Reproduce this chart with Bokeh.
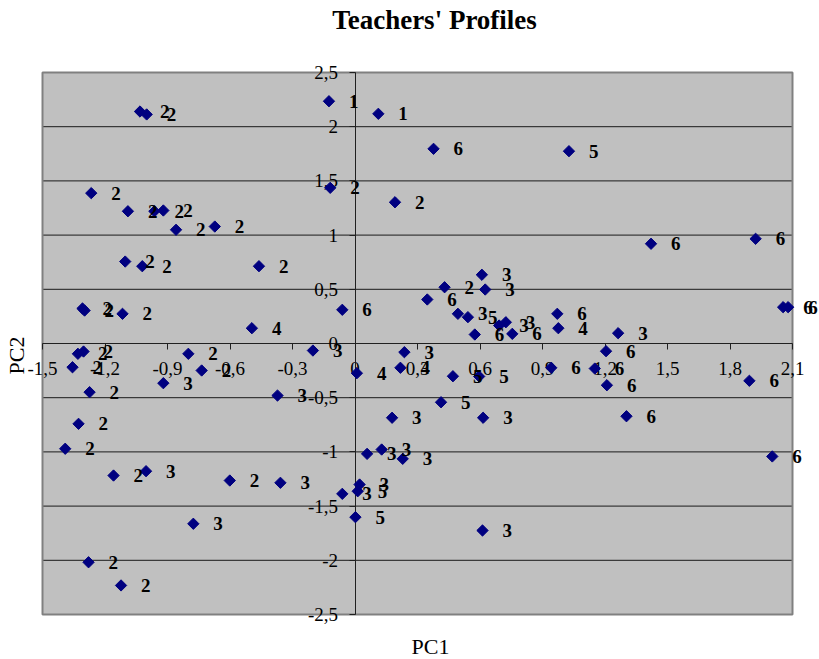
import math
from bokeh.plotting import figure
from bokeh.models import ColumnDataSource, LabelSet, FixedTicker, Label
from bokeh.embed import file_html
from bokeh.resources import INLINE

# ---- data ----
pc1 = [-0.125, 0.112, 0.377, 1.027, -1.032, -1.000, -0.119, 0.192, -1.266, -1.090,
       -0.963, -0.920, -0.859, -0.673, -1.103, -1.021, -0.461, -1.308, -1.298, -1.116,
       -0.495, -0.061, 0.347, 0.430, 0.609, 0.625, 0.494, 0.542, 0.575, 0.692,
       0.724, 0.755, 0.971, 0.976, 1.263, 1.205, 0.942, 1.151, 1.209, 1.303,
       1.893, 2.055, 2.079, 1.421, 1.923, 2.003, -0.202, 0.237, 0.218, 0.009,
       0.470, 0.596, 0.413, 0.178, 0.615, 0.058, 0.128, 0.229, -0.061, 0.022,
       0.013, 0.002, 0.612, -1.391, -1.159, -1.003, -0.601, -0.358, -0.776, -1.279,
       -1.123, -1.327, -1.274, -0.920, -0.800, -0.736, -0.372, -1.356, -1.330, -1.303]
pc2 = [2.235, 2.119, 1.796, 1.774, 2.140, 2.113, 1.436, 1.303, 1.387, 1.220,
       1.220, 1.227, 1.049, 1.079, 0.756, 0.713, 0.713, 0.323, 0.304, 0.274,
       0.141, 0.311, 0.406, 0.519, 0.634, 0.498, 0.274, 0.243, 0.083, 0.166,
       0.196, 0.089, 0.274, 0.141, 0.095, -0.071, -0.224, -0.231, -0.385, -0.671,
       -0.344, 0.335, 0.335, 0.920, 0.966, -1.042, -0.065, -0.080, -0.224, -0.274,
       -0.302, -0.304, -0.542, -0.685, -0.685, -1.018, -0.978, -1.064, -1.387, -1.301,
       -1.363, -1.602, -1.725, -0.971, -1.218, -1.178, -1.264, -1.285, -1.663, -2.018,
       -2.232, -0.741, -0.449, -0.366, -0.095, -0.249, -0.480, -0.219, -0.095, -0.074]
groups = ["1", "1", "6", "5", "2", "2", "2", "2", "2", "2",
          "2", "2", "2", "2", "2", "2", "2", "2", "2", "2",
          "4", "6", "6", "2", "3", "3", "3", "5", "6", "3",
          "3", "6", "6", "4", "3", "6", "6", "6", "6", "6",
          "6", "6", "6", "6", "6", "6", "3", "3", "4", "4",
          "5", "5", "5", "3", "3", "3", "3", "3", "3", "3",
          "5", "5", "3", "2", "2", "3", "2", "3", "3", "2",
          "2", "2", "2", "3", "2", "2", "3", "2", "2", "2"]

x_ticks = [-1.5, -1.2, -0.9, -0.6, -0.3, 0.0, 0.3, 0.6, 0.9, 1.2, 1.5, 1.8, 2.1]
x_tick_labels = ["-1,5", "-1,2", "-0,9", "-0,6", "-0,3", "0", "0,3", "0,6", "0,9",
                 "1,2", "1,5", "1,8", "2,1"]
y_ticks = [-2.5, -2.0, -1.5, -1.0, -0.5, 0.0, 0.5, 1.0, 1.5, 2.0, 2.5]
y_tick_labels = ["-2,5", "-2", "-1,5", "-1", "-0,5", "0", "0,5", "1", "1,5", "2", "2,5"]

title_text = "Teachers' Profiles"
x_title = "PC1"
y_title = "PC2"

FONT = "Liberation Serif"

# ---- layout geometry (canvas pixels; the canvas sits at the page's top-left) ----
W, H = 819, 659
PL, PR = 42, 792         # plot-area left/right (x_ticks[0] / x_ticks[-1])
PT, PB = 72, 614         # plot-area top/bottom (y_ticks[-1] / y_ticks[0])

xmin, xmax = x_ticks[0], x_ticks[-1]
ymin, ymax = y_ticks[0], y_ticks[-1]
sx = (PR - PL) / (xmax - xmin)
sy = (PB - PT) / (ymax - ymin)
x_range = (xmin - PL / sx, xmax + (W - PR) / sx)
y_range = (ymin - (H - PB) / sy, ymax + PT / sy)


def px2x(px):
    return xmin + (px - PL) / sx


def py2y(py):
    return ymax - (py - PT) / sy


src = ColumnDataSource(data=dict(x=pc1, y=pc2, g=groups))

p = figure(width=W, height=H, x_range=x_range, y_range=y_range,
           output_backend="svg", toolbar_location=None, min_border=0)
p.background_fill_color = "white"
p.border_fill_color = "white"
p.outline_line_color = None
p.xgrid.visible = False
p.ygrid.visible = False

# plot area
p.quad(left=xmin, right=xmax, bottom=ymin, top=ymax, fill_color="#C0C0C0",
       line_color=None, level="image")
inner_y = [v for v in y_ticks if ymin < v < ymax]
p.segment(x0=[xmin] * len(inner_y), x1=[xmax] * len(inner_y), y0=inner_y, y1=inner_y,
          line_color="#1a1a1a", line_width=1, level="image")
p.quad(left=xmin, right=xmax, bottom=ymin, top=ymax, fill_color=None,
       line_color="#808080", line_width=2, level="underlay")

# axes crossing at the origin
for ax, ticks, labels, bnds in ((p.xaxis[0], x_ticks, x_tick_labels, (xmin, xmax)),
                                (p.yaxis[0], y_ticks, y_tick_labels, (ymin, ymax))):
    ax.fixed_location = 0
    ax.bounds = bnds
    ax.level = "underlay"
    ax.ticker = FixedTicker(ticks=ticks)
    ax.major_label_overrides = dict(zip(ticks, labels))
    ax.axis_line_color = "#202020"
    ax.major_tick_line_color = "#202020"
    ax.major_tick_in = 0
    ax.major_tick_out = 6
    ax.minor_tick_line_color = None
    ax.major_label_text_font = FONT
    ax.major_label_text_font_size = "19px"
    ax.major_label_text_color = "black"
p.xaxis.major_label_standoff = 12
p.yaxis.major_label_standoff = 11

p.scatter("x", "y", source=src, marker="square", size=8, angle=math.pi / 4,
          fill_color="#000080", line_color="#000080")

labels = LabelSet(x="x", y="y", text="g", source=src, x_offset=20, y_offset=0,
                  text_font=FONT, text_font_size="19px", text_font_style="bold",
                  text_color="black", text_baseline="middle", text_align="left")
p.add_layout(labels)

p.add_layout(Label(x=px2x(434), y=py2y(19), text=title_text, text_font=FONT,
                   text_font_size="27px", text_font_style="bold", text_color="black",
                   text_align="center", text_baseline="middle"))
p.add_layout(Label(x=px2x(430), y=py2y(646), text=x_title, text_font=FONT,
                   text_font_size="22px", text_color="black",
                   text_align="center", text_baseline="middle"))
p.add_layout(Label(x=px2x(16), y=py2y(355), text=y_title, text_font=FONT,
                   text_font_size="22px", text_color="black", angle=math.pi / 2,
                   text_align="center", text_baseline="middle"))

open("out.html", "w").write(file_html(p, INLINE))
